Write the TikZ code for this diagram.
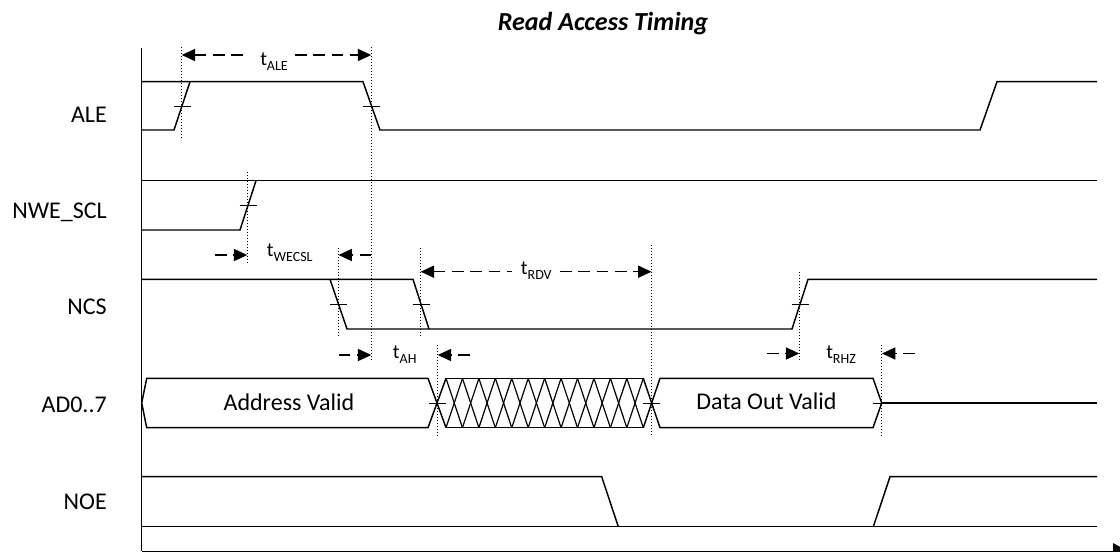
\documentclass[tikz,border=0pt]{standalone}
\usepackage{fontspec}
\setmainfont{Carlito}
\usetikzlibrary{arrows.meta}
\newcommand\tsubl[1]{t\raisebox{-3.75pt}{\fontsize{10.5}{12}\selectfont #1}}
\tikzset{
  sig/.style={line width=1.1pt, line join=miter},
  hatch/.style={line width=0.9pt},
  tickmark/.style={line width=0.75pt},
  guide/.style={line width=0.7pt, dash pattern=on 0.75pt off 1.5pt},
  dimline/.style={line width=1.1pt, dash pattern=on 8.75pt off 5pt},
  dimstart/.style={{Triangle[length=10pt,width=9pt]}-},
  dimend/.style={-{Triangle[length=10pt,width=9pt]}},
  lbl/.style={inner sep=0pt, anchor=base east, font=\fontsize{18}{21}\selectfont},
  intext/.style={inner sep=0pt, anchor=base, font=\fontsize{18}{21}\selectfont},
  tlbl/.style={inner sep=0pt, anchor=base west, font=\fontsize{15}{18}\selectfont},
}
\begin{document}
\begin{tikzpicture}[x=0.75pt,y=-0.75pt]
\useasboundingbox (0,0) rectangle (1120,551);
\clip (0,0) rectangle (1120,551);

% title
\node[inner sep=0pt, anchor=base, font=\fontsize{19.5}{22}\selectfont\bfseries\itshape] (title) at (603,30) {Read Access Timing};

% signal names
\node[lbl] (nALE) at (107,122) {ALE};
\node[lbl] (nNWE) at (107,218) {NWE\_SCL};
\node[lbl] (nNCS) at (107,314) {NCS};
\node[lbl] (nAD) at (107,412) {AD0..7};
\node[lbl] (nNOE) at (107,509) {NOE};

% axes
\draw[sig] (141.7,48) -- (141.7,551.3);
\draw[sig] (141.7,551.3) -- (1113,551.3);
\fill (1113,543) -- (1128,551.3) -- (1113,559) -- cycle;

% ALE
\draw[sig] (141.7,81.7) -- (363,81.7) -- (380,130) -- (980,130) -- (997,81.7) -- (1097,81.7);
\draw[sig] (141.7,130) -- (174,130) -- (190,81.7);

% NWE_SCL
\draw[sig] (141.7,180.7) -- (1097,180.7);
\draw[sig] (141.7,230) -- (240,230) -- (256,180.7);

% NCS
\draw[sig] (141.7,279.3) -- (413,279.3) -- (429,329);
\draw[sig] (330,279.3) -- (347,329) -- (792,329) -- (808,279.3) -- (1097,279.3);

% AD0..7
\draw[sig] (428,378.3) -- (146.7,378.3) -- (141.7,403) -- (146.7,427.7) -- (428,427.7);
\node[intext] (addr) at (289,410) {Address Valid};
\draw[sig] (428,378.3) -- (446,427.7);
\draw[sig] (428,427.7) -- (446,378.3);
\draw[sig] (446,378.3) -- (643.3,378.3);
\draw[sig] (446,427.7) -- (643.3,427.7);
\foreach \i in {0,...,11}{
  \pgfmathsetmacro\xa{446+16.44*\i}
  \pgfmathsetmacro\xb{446+16.44*(\i+1)}
  \draw[hatch] (\xa,378.3) -- (\xb,427.7);
  \draw[hatch] (\xa,427.7) -- (\xb,378.3);
}
\draw[sig] (643.3,378.3) -- (660,427.7);
\draw[sig] (643.3,427.7) -- (660,378.3);
\draw[sig] (660,378.3) -- (873,378.3) -- (881.7,403) -- (873,427.7) -- (660,427.7);
\node[intext] (dout) at (766.5,409.5) {Data Out Valid};
\draw[sig] (881.7,403) -- (1097,403);

% NOE
\draw[sig] (141.7,476.7) -- (601.7,476.7) -- (618.3,526.7);
\draw[sig] (141.7,526.7) -- (1097,526.7);
\draw[sig] (873.3,526.7) -- (890,476.7) -- (1097,476.7);

% guides
\draw[guide] (181.7,47) -- (181.7,140);
\draw[guide] (371.3,47) -- (371.3,362);
\draw[guide] (247.3,172) -- (247.3,263);
\draw[guide] (338.5,248) -- (338.5,338);
\draw[guide] (420.7,248) -- (420.7,338);
\draw[guide] (437.7,345) -- (437.7,437);
\draw[guide] (651.5,245) -- (651.5,436);
\draw[guide] (799.3,272) -- (799.3,362);
\draw[guide] (881.7,345) -- (881.7,437);

% ticks
\foreach \x/\y in {182/106, 371.5/106, 248/205.5, 338.5/304, 421/304, 800/304, 437.5/403, 651.5/403, 881/403}{
  \draw[tickmark] (\x-8.5,\y) -- (\x+8.5,\y);
}

% timing dimensions
\coordinate (aleL) at (181.7,55);
\coordinate (aleM1) at (246,55);
\coordinate (aleM2) at (295,55);
\coordinate (aleR) at (371.3,55);
\draw[dimline,dimstart] (aleL) -- (aleM1);
\draw[dimline,dimend] (aleM2) -- (aleR);
\node[tlbl] (tALE) at (260,65) {\tsubl{ALE}};

\coordinate (wecA) at (215,255);
\coordinate (wecB) at (247.3,255);
\coordinate (wecC) at (371.3,255);
\coordinate (wecD) at (338.5,255);
\draw[dimline,dimend] (wecA) -- (wecB);
\draw[dimline,dimend] (wecC) -- (wecD);
\node[tlbl] (tWECSL) at (266.7,256.7) {\tsubl{WECSL}};

\coordinate (rdvL) at (420.7,271.7);
\coordinate (rdvM1) at (512,271.7);
\coordinate (rdvM2) at (560,271.7);
\coordinate (rdvR) at (651.5,271.7);
\draw[dimline,dimstart] (rdvL) -- (rdvM1);
\draw[dimline,dimend] (rdvM2) -- (rdvR);
\node[tlbl] (tRDV) at (520.7,274.3) {\tsubl{RDV}};

\coordinate (ahA) at (338.5,355);
\coordinate (ahB) at (371.3,355);
\coordinate (ahC) at (470,355);
\coordinate (ahD) at (437.7,355);
\draw[dimline,dimend] (ahA) -- (ahB);
\draw[dimline,dimend] (ahC) -- (ahD);
\node[tlbl] (tAH) at (392.7,358.3) {\tsubl{AH}};

\coordinate (rhzA) at (767,353.5);
\coordinate (rhzB) at (799.3,353.5);
\coordinate (rhzC) at (915,353.5);
\coordinate (rhzD) at (882,353.5);
\draw[dimline,dimend] (rhzA) -- (rhzB);
\draw[dimline,dimend] (rhzC) -- (rhzD);
\node[tlbl] (tRHZ) at (826,358.3) {\tsubl{RHZ}};
\end{tikzpicture}
\end{document}
